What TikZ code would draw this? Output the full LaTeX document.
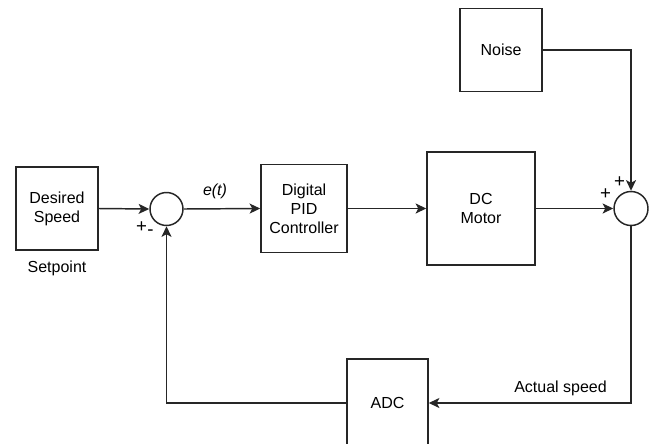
\documentclass[tikz,border=0pt]{standalone}
\usepackage{fontspec}
\setmainfont{Liberation Sans}
\usetikzlibrary{arrows.meta}
\begin{document}
\begin{tikzpicture}[x=0.75pt,y=-0.75pt,
  blk/.style={draw=black!85,line width=1.1pt,fill=white,inner sep=0pt,align=center,
    font=\fontsize{12pt}{14.2pt}\selectfont},
  sumj/.style={draw=black!85,line width=1.1pt,circle,inner sep=0pt,fill=white},
  lbl/.style={font=\fontsize{12pt}{14.2pt}\selectfont,inner sep=0pt},
  sgn/.style={font=\fontsize{14pt}{14pt}\selectfont,inner sep=0pt},
  conn/.style={draw=black!85,line width=1.1pt},
  arr/.style={conn,-{Stealth[length=8pt,width=7.5pt,inset=2pt]}}]
\useasboundingbox (0,0) rectangle (652,443);
\node[blk,minimum width=61.5pt,minimum height=62.25pt] (ds) at (57,208.5) {Desired\\Speed};
\node[lbl] (sp) at (57,268) {Setpoint};
\node[sumj,minimum size=24.75pt] (sl) at (166.5,209) {};
\node[blk,minimum width=64.5pt,minimum height=66pt] (pid) at (304,208.5) {Digital\\PID\\Controller};
\node[blk,minimum width=81pt,minimum height=84.75pt] (dc) at (481,208.5) {DC\\Motor};
\node[sumj,minimum size=25.5pt] (sr) at (631,208.5) {};
\node[blk,minimum width=61.5pt,minimum height=62.25pt] (ns) at (501,50) {Noise};
\node[blk,minimum width=60.75pt,minimum height=66pt] (adc) at (387.5,403) {ADC};
\node[lbl,font=\fontsize{12pt}{14.2pt}\selectfont\itshape] (et) at (215,191) {e(t)};
\node[lbl] (as) at (560.5,388.5) {Actual speed};
\node[sgn] (p1) at (141.5,227.5) {+};
\node[sgn] (m1) at (150.5,233) {-};
\node[sgn] (p2) at (605.5,194.5) {+};
\node[sgn] (p3) at (619.5,182) {+};
\draw[arr] (ds.east) -- (sl.west);
\draw[arr] (sl.east) -- (pid.west);
\draw[arr] (pid.east) -- (dc.west);
\draw[arr] (dc.east) -- (sr.west);
\draw[arr] (ns.east) -| (sr.north);
\draw[arr] (sr.south) |- (adc.east);
\draw[arr] (adc.west) -| (sl.south);
\end{tikzpicture}
\end{document}
